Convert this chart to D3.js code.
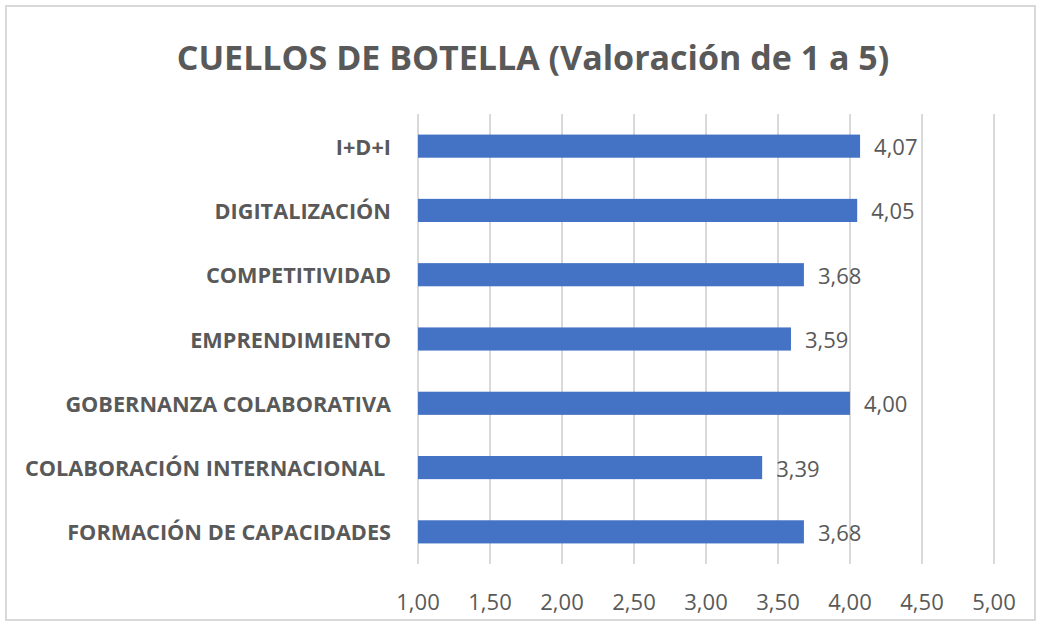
<!DOCTYPE html>
<html>
<head>
<meta charset="utf-8">
<script src="https://cdn.jsdelivr.net/npm/d3@7"></script>
<style>
  body { margin: 0; background: #fff; }
  text { font-family: "Open Sans", sans-serif; fill: #595959; }
</style>
</head>
<body>
<main></main>
<script>
// Datos
const categorias = ["I+D+I", "DIGITALIZACIÓN", "COMPETITIVIDAD", "EMPRENDIMIENTO",
  "GOBERNANZA COLABORATIVA", "COLABORACIÓN INTERNACIONAL ", "FORMACIÓN DE CAPACIDADES"];
const valores = [4.07, 4.05, 3.68, 3.59, 4.00, 3.39, 3.68];
const ticks = [1, 1.5, 2, 2.5, 3, 3.5, 4, 4.5, 5];
const titulo = "CUELLOS DE BOTELLA (Valoración de 1 a 5)";

const w = 1039;
const h = 627;

var svg = d3.select('main')
    .append('svg')
    .attr('width', w)
    .attr('height', h);

// borde exterior
svg.append('rect')
    .attr('x', 6).attr('y', 6)
    .attr('width', 1029).attr('height', 614)
    .attr('fill', '#fff')
    .attr('stroke', '#d9d9d9')
    .attr('stroke-width', 2);

// escalas
const x = d3.scaleLinear().domain([1, 5]).range([418, 994]);
const y = d3.scaleBand().domain(categorias).range([114, 564]).paddingInner(0.64).paddingOuter(0.32);

// titulo
svg.append('text')
    .attr('x', 533).attr('y', 57)
    .attr('text-anchor', 'middle')
    .attr('dominant-baseline', 'central')
    .style('font-size', '34px')
    .style('font-weight', 'bold')
    .text(titulo);

// lineas de cuadricula
svg.append('g')
    .selectAll('line')
    .data(ticks)
    .enter()
    .append('line')
    .attr('x1', d => x(d)).attr('x2', d => x(d))
    .attr('y1', 114).attr('y2', 564)
    .attr('stroke', '#d9d9d9')
    .attr('stroke-width', 2);

// etiquetas del eje x
const fmt = d => d3.format('.2f')(d).replace('.', ',');
svg.append('g')
    .selectAll('text')
    .data(ticks)
    .enter()
    .append('text')
    .attr('x', d => x(d))
    .attr('y', 601)
    .attr('text-anchor', 'middle')
    .attr('dominant-baseline', 'central')
    .style('font-size', '22px')
    .text(fmt);

// barras
svg.append('g')
    .selectAll('rect')
    .data(valores)
    .enter()
    .append('rect')
    .attr('x', x(1))
    .attr('y', (d, i) => y(categorias[i]))
    .attr('width', d => x(d) - x(1))
    .attr('height', y.bandwidth())
    .attr('fill', '#4472c4');

// valores
svg.append('g')
    .selectAll('text')
    .data(valores)
    .enter()
    .append('text')
    .attr('x', d => x(d) + 14)
    .attr('y', (d, i) => y(categorias[i]) + y.bandwidth() / 2)
    .attr('dominant-baseline', 'central')
    .style('font-size', '22px')
    .text(fmt);

// categorias
svg.append('g')
    .selectAll('text')
    .data(categorias)
    .enter()
    .append('text')
    .attr('x', 391)
    .attr('y', d => y(d) + y.bandwidth() / 2)
    .attr('text-anchor', 'end')
    .attr('dominant-baseline', 'central')
    .style('font-size', '21.7px')
    .style('font-weight', 'bold')
    .style('white-space', 'pre')
    .text(d => d);
</script>
</body>
</html>
